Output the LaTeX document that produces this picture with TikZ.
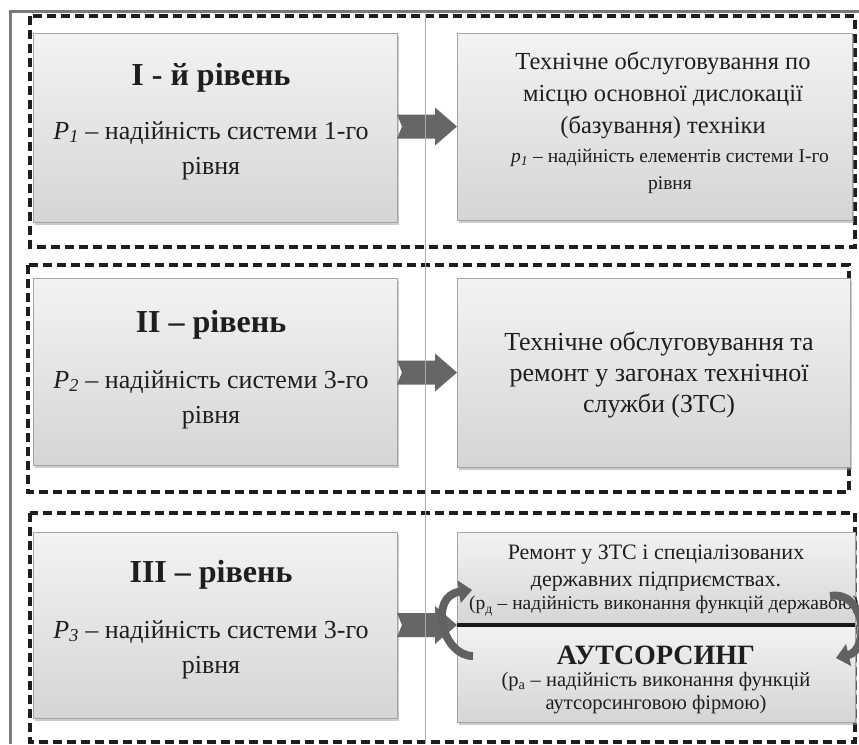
\documentclass[tikz,border=0pt]{standalone}
\usepackage{fontspec}
\setmainfont{Liberation Serif}
\usetikzlibrary{calc,shadows,arrows.meta}
\definecolor{boxborder}{HTML}{A4A4A4}
\definecolor{boxtop}{HTML}{F3F3F3}
\definecolor{boxbot}{HTML}{D5D5D5}
\definecolor{arrowgray}{HTML}{666666}
\definecolor{dashcol}{HTML}{1E1E1E}
\definecolor{framegray}{HTML}{7A7A7A}
\definecolor{textcol}{HTML}{1E1E1E}
\tikzset{
  levelbox/.style={draw=boxborder, line width=0.9pt, top color=boxtop, bottom color=boxbot,
    drop shadow={shadow xshift=2pt, shadow yshift=-2.5pt, fill=black!40, opacity=0.5},
    inner sep=0pt, outer sep=0pt},
  dashframe/.style={draw=dashcol, line width=3.2pt, dash pattern=on 9pt off 5pt},
  txt/.style={text=textcol, inner sep=0pt, align=center},
  ttl/.style={txt, font=\fontsize{32}{36}\selectfont\bfseries},
  bod/.style={txt, font=\fontsize{26}{35}\selectfont},
  rbig/.style={txt, font=\fontsize{24.5}{32}\selectfont},
  rbigb/.style={txt, font=\fontsize{26}{31}\selectfont},
  rsmall/.style={txt, font=\fontsize{19.5}{27}\selectfont},
  rtop/.style={txt, font=\fontsize{22}{27}\selectfont},
  rmid/.style={txt, font=\fontsize{20.5}{23}\selectfont},
  blockfill/.style={fill=arrowgray},
  curvarrow/.style={draw=black!62, line width=8pt, -{Triangle[length=13pt,width=22pt]}},
}
\newcommand\blkarrow[2]{%
  \fill[blockfill] ($(#1.east|-#2)+(0,-12)$) -- ($(#2)+(-22,-12)$) -- ($(#2)+(-22,-19)$)
    -- (#2) -- ($(#2)+(-22,19)$) -- ($(#2)+(-22,12)$) -- ($(#1.east|-#2)+(0,12)$)
    -- ($(#1.east|-#2)+(5,0)$) -- cycle;}
\begin{document}
\begin{tikzpicture}[x=1pt,y=-1pt]
\useasboundingbox (0,0) rectangle (859,744);
\fill[white] (0,0) rectangle (859,744);
% outer frame
\draw[framegray, line width=3pt] (10,744) -- (10,11) -- (859,11);
% dashed frames
\draw[dashframe] (30,16) rectangle (855,247);
\draw[dashframe] (28,265) rectangle (849,492);
\draw[dashframe] (30,513) rectangle (855,742);
% boxes
\node[levelbox, minimum width=364pt, minimum height=189pt] (l1) at (215,127.5) {};
\node[levelbox, minimum width=364pt, minimum height=187pt] (l2) at (215,371.5) {};
\node[levelbox, minimum width=364pt, minimum height=186pt] (l3) at (215,625) {};
\node[levelbox, minimum width=395pt, minimum height=187pt] (r1) at (654.5,126.5) {};
\node[levelbox, minimum width=393pt, minimum height=189pt] (r2) at (653.5,372.5) {};
\node[levelbox, minimum width=398pt, minimum height=93pt] (r3a) at (656,578.5) {};
\node[levelbox, minimum width=398pt, minimum height=97pt] (r3b) at (656,673.5) {};
\coordinate (r3m) at (r3a.south west);
% block arrows
\blkarrow{l1}{r1.west}
\blkarrow{l2}{r2.west}
\blkarrow{l3}{r3m}
% thin vertical line
\draw[gray!65, line width=0.8pt] (425,11) -- (425,744);
% texts left
\node[ttl] (l1t) at (211,78) {І - й рівень};
\node[bod] (l1b) at (211,150.5) {\textit{P\textsubscript{1}} – надійність системи 1-го\\рівня};
\node[ttl] (l2t) at (211,325) {ІІ – рівень};
\node[bod] (l2b) at (211,399.5) {\textit{P\textsubscript{2}} – надійність системи 3-го\\рівня};
\node[ttl] (l3t) at (211,575) {ІІІ – рівень};
\node[bod] (l3b) at (211,649.5) {\textit{P\textsubscript{3}} – надійність системи 3-го\\рівня};
% texts right
\node[rbig] (r1t) at (663,95) {Технічне обслуговування по\\місцю основної дислокації\\(базування) техніки};
\node[rsmall] (r1b) at (670,171.5) {\textit{p\textsubscript{1}} – надійність елементів системи І-го\\рівня};
\node[rbigb] (r2t) at (659,375) {Технічне обслуговування та\\ремонт у загонах технічної\\служби (ЗТС)};
\node[rtop] (r3t) at (656,568.5) {Ремонт у ЗТС і спеціалізованих\\державних підприємствах.};
\node[rsmall] (r3d) at (664,606) {(р\textsubscript{д} – надійність виконання функцій державою)};
\node[ttl, font=\fontsize{28}{30}\selectfont\bfseries] (r3o) at (656,655) {АУТСОРСИНГ};
\node[rmid] (r3e) at (656,693) {(р\textsubscript{а} – надійність виконання функцій\\аутсорсинговою фірмою)};
% separator line
\draw[black!90, line width=3.5pt] (r3m) -- (r3a.south east);
% curved arrows
\coordinate (cl1) at (473,656);
\coordinate (cl2) at (472,590);
\draw[curvarrow] (cl1) .. controls (442,656) and (428,596) .. (cl2);
\coordinate (cr1) at (830,596);
\coordinate (cr2) at (836,658);
\draw[curvarrow] (cr1) .. controls (866,590) and (870,650) .. (cr2);
\end{tikzpicture}
\end{document}
